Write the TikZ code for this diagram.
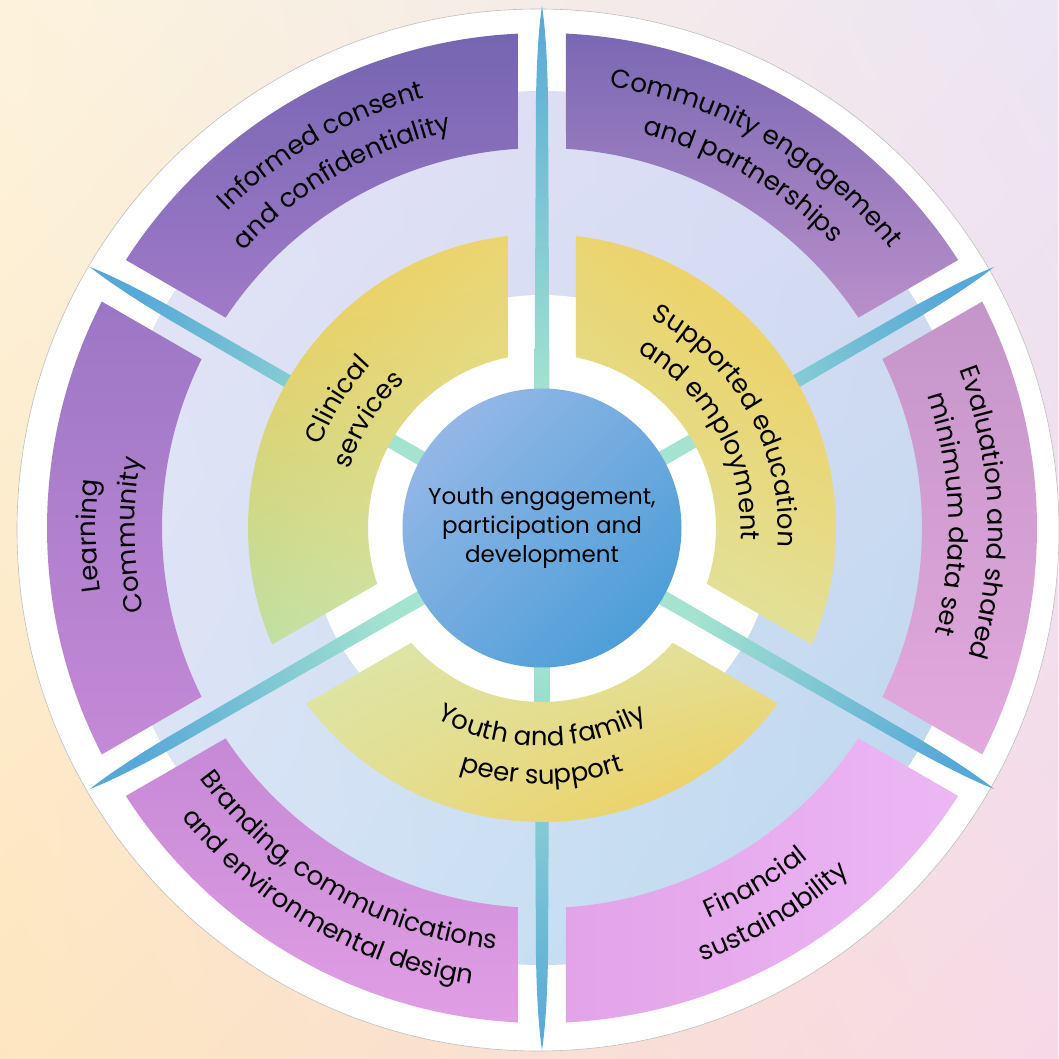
\documentclass[tikz,border=0pt]{standalone}
\usepackage{fontspec}
\setmainfont{Poppins}
\usepackage{xcolor}
\usepackage{tikz}
\usetikzlibrary{decorations.text,shadings}

\definecolor{bgul}{HTML}{FDF3DC}
\definecolor{bgur}{HTML}{ECE5F4}
\definecolor{bgll}{HTML}{FDE6BF}
\definecolor{bglr}{HTML}{F6D9E7}
\definecolor{paleul}{HTML}{E6E2F6}
\definecolor{paleur}{HTML}{D6DAF3}
\definecolor{palell}{HTML}{D9E6F6}
\definecolor{palelr}{HTML}{B6D7EE}
\definecolor{spokein}{HTML}{A3E3CF}
\definecolor{spokeout}{HTML}{56A8D8}
\definecolor{hubl}{HTML}{93B7E6}
\definecolor{hubr}{HTML}{4E9ED8}
\definecolor{consentt}{HTML}{7565B1}
\definecolor{consentb}{HTML}{A07AC9}
\definecolor{commt}{HTML}{7A68B4}
\definecolor{commb}{HTML}{B98FC9}
\definecolor{evalt}{HTML}{C495C9}
\definecolor{evalb}{HTML}{E3A9DE}
\definecolor{finl}{HTML}{E3A3E8}
\definecolor{finr}{HTML}{ECB7F5}
\definecolor{brandt}{HTML}{C689D6}
\definecolor{brandb}{HTML}{E09EE4}
\definecolor{learnt}{HTML}{9B77C5}
\definecolor{learnb}{HTML}{C589D7}
\definecolor{gold}{HTML}{F2CB50}
\definecolor{midgold}{HTML}{EAD572}
\definecolor{paleyel}{HTML}{E3DF96}
\definecolor{leaf}{HTML}{BDDFA3}
\definecolor{paleleaf}{HTML}{DCE6A8}

\newcommand{\outerfont}{\fontsize{26}{32}\selectfont}
\newcommand{\innerfont}{\fontsize{26}{31}\selectfont}

% ring segment between two spoke angles, gap of constant width
\newcommand{\segpath}[5]{({#1+asin(#5/#4)}:#4)
  arc[start angle={#1+asin(#5/#4)},end angle={#2-asin(#5/#4)},radius=#4]
  -- ({#2-asin(#5/#3)}:#3)
  arc[start angle={#2-asin(#5/#3)},end angle={#1+asin(#5/#3)},radius=#3] -- cycle}

% one line of text on an arc (cw: clockwise, ccw: anticlockwise)
\newcommand{\cwline}[4]{\path[decorate,decoration={text along path,text align=center,
  text={|#3|#4}}] ({#1+75}:#2) arc[start angle={#1+75},end angle={#1-75},radius=#2];}
\newcommand{\ccwline}[4]{\path[decorate,decoration={text along path,text align=center,
  text={|#3|#4}}] ({#1-75}:#2) arc[start angle={#1-75},end angle={#1+75},radius=#2];}

\begin{document}
\begin{tikzpicture}[x=1pt,y=1pt,
  hub/.style={circle,minimum size=279pt,inner sep=0pt,align=center,
    top color=hubl,bottom color=hubr,shading angle=45,
    font=\fontsize{23}{29}\selectfont},
  spoke/.style={top color=spokein,bottom color=spokeout}]
  \useasboundingbox (-542,-531) rectangle (516,528);
  % backdrop
  \shade[upper left=bgul,upper right=bgur,lower left=bgll,lower right=bglr]
    (-542,-531) rectangle (516,528);
  \filldraw[fill=white,draw=black!25,line width=0.6pt] (-4,-2) circle[radius=521];
  \shade[upper left=paleul,upper right=paleur,lower left=palell,lower right=palelr]
    (0,0) circle[radius=437];
  \fill[white] (0,0) circle[radius=233];
  % outer segments
  \shade[top color=consentt,bottom color=consentb] \segpath{90}{150}{380}{495}{24};
  \shade[top color=commt,bottom color=commb] \segpath{30}{90}{380}{495}{24};
  \shade[top color=evalt,bottom color=evalb] \segpath{-30}{30}{380}{495}{24};
  \shade[left color=finl,right color=finr] \segpath{270}{330}{380}{495}{24};
  \shade[top color=brandt,bottom color=brandb] \segpath{210}{270}{380}{495}{24};
  \shade[top color=learnt,bottom color=learnb] \segpath{150}{210}{380}{495}{24};
  % spokes
  \foreach \a in {30,90,...,330}
    \shade[spoke,shading angle=\a+90,rotate=\a] (130,-7.5) -- (430,-6)
      .. controls (480,-5) and (505,-2.5) .. (522,0)
      .. controls (505,2.5) and (480,5) .. (430,6) -- (130,7.5) -- cycle;
  % inner segments
  \shade[upper left=gold,upper right=midgold,lower left=leaf,lower right=paleleaf]
    \segpath{90}{210}{174}{294}{34};
  \shade[upper left=midgold,upper right=gold,lower left=paleleaf,lower right=paleyel]
    \segpath{-30}{90}{174}{294}{34};
  \shade[upper left=paleleaf,upper right=paleyel,lower left=paleyel,lower right=gold]
    \segpath{210}{330}{174}{294}{34};
  \node[hub] (hub) at (0,0) {Youth engagement,\\participation and\\development};
  % labels
  \cwline{120}{446}{\outerfont}{Informed consent}
  \cwline{120}{407}{\outerfont}{and confidentiality}
  \cwline{60}{446}{\outerfont}{Community engagement}
  \cwline{60}{407}{\outerfont}{and partnerships}
  \cwline{2}{446}{\outerfont}{Evaluation and shared}
  \cwline{2}{407}{\outerfont}{minimum data set}
  \ccwline{301}{424}{\outerfont}{Financial}
  \ccwline{301}{462}{\outerfont}{sustainability}
  \ccwline{240}{424}{\outerfont}{Branding, communications}
  \ccwline{240}{462}{\outerfont}{and environmental design}
  \cwline{181}{446}{\outerfont}{Learning}
  \cwline{181}{407}{\outerfont}{Community}
  \cwline{148}{236}{\innerfont}{Clinical}
  \cwline{148}{201}{\innerfont}{services}
  \cwline{29}{236}{\innerfont}{Supported education}
  \cwline{29}{199}{\innerfont}{and employment}
  \ccwline{270}{218}{\innerfont}{Youth and family}
  \ccwline{270}{256}{\innerfont}{peer support}
\end{tikzpicture}
\end{document}
